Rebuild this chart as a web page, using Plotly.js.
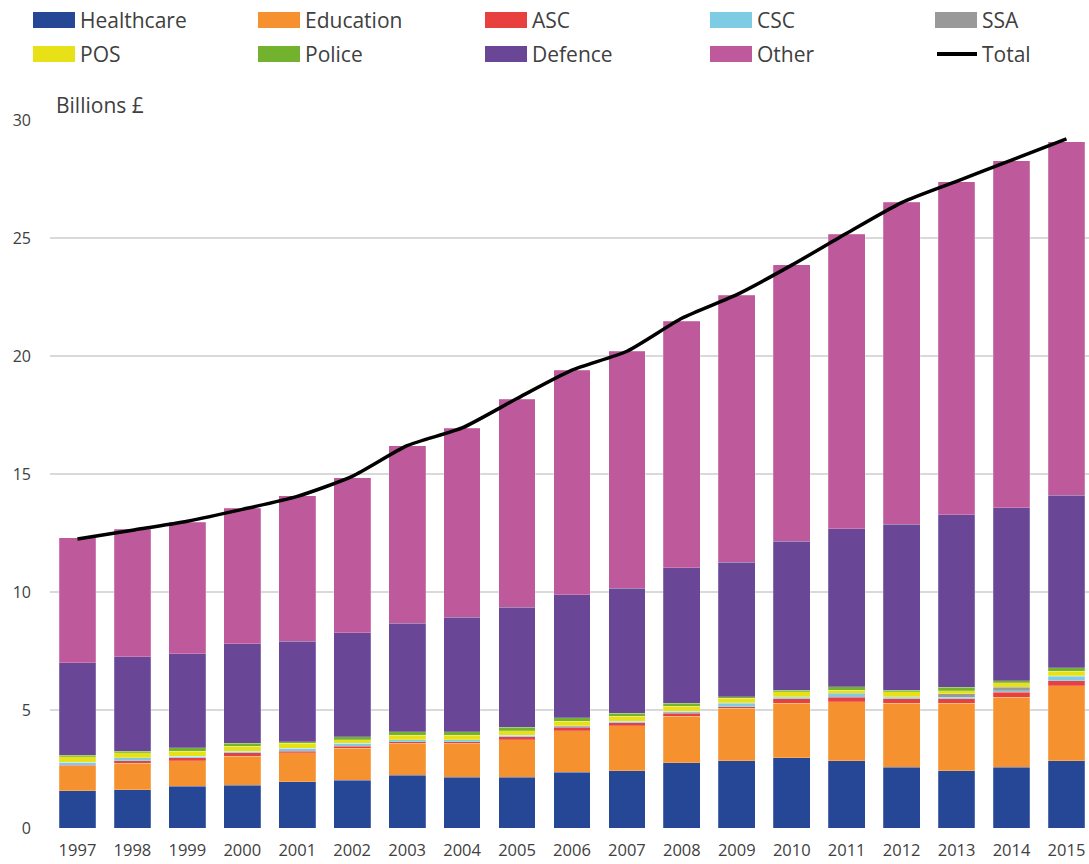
<!DOCTYPE html>
<html>
<head>
<meta charset="utf-8">
<script src="https://cdn.plot.ly/plotly-3.0.1.min.js"></script>
<style>html,body{margin:0;padding:0;background:#fff;}#chart{width:1089px;height:864px;}</style>
</head>
<body>
<div id="chart"></div>
<script>
const years = ['1997','1998','1999','2000','2001','2002','2003','2004','2005','2006','2007','2008','2009','2010','2011','2012','2013','2014','2015'];
const healthcare = [1.57,1.62,1.77,1.82,1.96,2.03,2.23,2.16,2.16,2.37,2.43,2.77,2.84,2.98,2.84,2.57,2.43,2.57,2.84];
const education  = [1.07,1.13,1.07,1.23,1.22,1.36,1.36,1.43,1.57,1.75,1.91,1.96,2.23,2.30,2.51,2.71,2.85,2.98,3.19];
const asc        = [0.01,0.09,0.14,0.13,0.07,0.07,0.07,0.07,0.13,0.15,0.12,0.14,0.07,0.20,0.20,0.20,0.20,0.20,0.20];
const csc        = [0.13,0.14,0.07,0.07,0.14,0.13,0.07,0.07,0.07,0.07,0.07,0.07,0.14,0.07,0.14,0.07,0.07,0.07,0.20];
const ssa        = [0,0,0,0,0,0,0,0,0,0,0,0,0.02,0.02,0.02,0.02,0.14,0.14,0.02];
const pos        = [0.23,0.21,0.21,0.21,0.20,0.14,0.20,0.20,0.19,0.19,0.20,0.22,0.20,0.20,0.13,0.20,0.13,0.20,0.19];
const police     = [0.07,0.07,0.14,0.13,0.07,0.13,0.14,0.14,0.15,0.14,0.14,0.12,0.07,0.07,0.14,0.07,0.14,0.07,0.15];
const defence    = [3.92,3.99,3.99,4.21,4.26,4.42,4.60,4.87,5.08,5.22,5.29,5.74,5.70,6.32,6.69,7.03,7.32,7.33,7.31];
const other      = [5.30,5.41,5.56,5.75,6.16,6.56,7.53,8.00,8.81,9.51,10.04,10.46,11.30,11.70,12.49,13.64,14.11,14.72,14.98];
const total      = [12.25,12.62,13.0,13.5,14.05,14.9,16.2,16.95,18.2,19.4,20.2,21.6,22.6,23.85,25.2,26.5,27.4,28.3,29.2];

const seriesNames = ['Healthcare','Education','ASC','CSC','SSA','POS','Police','Defence','Other'];
const seriesData = [healthcare,education,asc,csc,ssa,pos,police,defence,other];
const seriesColors = ['#264796','#F5922F','#E8403F','#7ECBE4','#999999','#E8E117','#73B22F','#694796','#BE5A9C'];

const traces = seriesNames.map((n,i)=>({
  type:'bar', name:n, x:years, y:seriesData[i],
  marker:{color:seriesColors[i], line:{color:'rgba(255,255,255,0.35)', width:0.6}},
  showlegend:false, hoverinfo:'name+y'
}));
traces.push({
  type:'scatter', mode:'lines', name:'Total', x:years, y:total,
  line:{color:'#000', width:3.5, shape:'spline', smoothing:0.6},
  showlegend:false
});

// figure geometry
const W=1089, H=864, ML=50, MR=0, MT=120, MB=36;
const px2x = p => (p-ML)/(W-ML-MR);
const py2y = p => (H-MB-p)/(H-MT-MB);

const legendNames = seriesNames.concat(['Total']);
const legendColors = seriesColors.concat(['#000']);
const colX = [33,258,485,710,935];
const rowY = [20,54];
const shapes=[], annotations=[];
legendNames.forEach((n,i)=>{
  const cx = colX[i%5], cy = rowY[Math.floor(i/5)];
  if(n==='Total'){
    shapes.push({type:'line', xref:'paper', yref:'paper', x0:px2x(cx+2), x1:px2x(cx+42), y0:py2y(cy), y1:py2y(cy), line:{color:'#000', width:4}});
  } else {
    shapes.push({type:'rect', xref:'paper', yref:'paper', x0:px2x(cx), x1:px2x(cx+42), y0:py2y(cy+8), y1:py2y(cy-8), fillcolor:legendColors[i], line:{width:0}});
  }
  annotations.push({xref:'paper', yref:'paper', x:px2x(cx+45), y:py2y(cy), text:n, showarrow:false, xanchor:'left', yanchor:'middle',
    font:{family:'Open Sans, sans-serif', size:21, color:'#404040'}});
});
annotations.push({xref:'paper', yref:'paper', x:px2x(54), y:py2y(105), text:'Billions £', showarrow:false, xanchor:'left', yanchor:'middle',
  font:{family:'Open Sans, sans-serif', size:21, color:'#404040'}});

const layout = {
  width:W, height:H, margin:{l:ML, r:MR, t:MT, b:MB},
  barmode:'stack', bargap:0.33,
  paper_bgcolor:'#fff', plot_bgcolor:'#fff',
  font:{family:'Open Sans, sans-serif', color:'#404040'},
  xaxis:{type:'category', range:[-0.5,18.41], showgrid:false, showline:false, ticks:'', zeroline:false,
    tickfont:{size:16.5, color:'#404040'}, ticklabelstandoff:10, fixedrange:true},
  yaxis:{range:[0,30], tickvals:[0,5,10,15,20,25,30], gridcolor:'#d9d9d9', gridwidth:1.5, zeroline:false, showline:false,
    ticks:'', tickfont:{size:16, color:'#404040'}, ticklabelstandoff:18},
  shapes:shapes, annotations:annotations, showlegend:false
};
Plotly.newPlot('chart', traces, layout, {displayModeBar:false, staticPlot:true});
</script>
</body>
</html>
